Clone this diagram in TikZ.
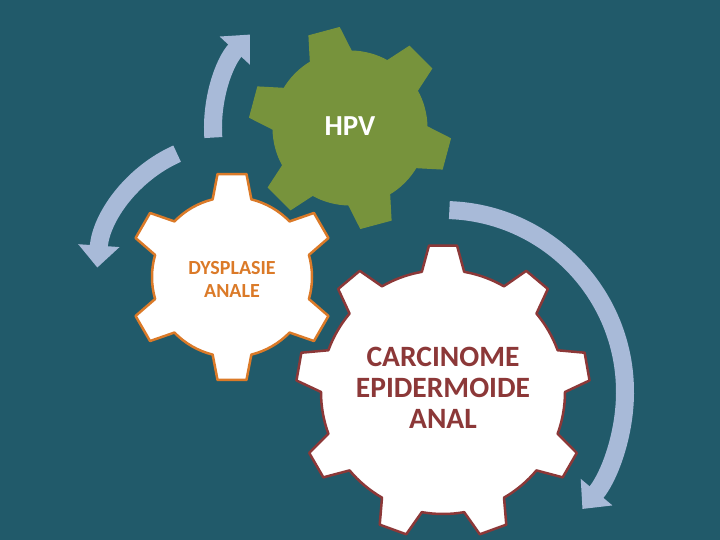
\documentclass[tikz,border=0pt]{standalone}
\usepackage{fontspec}
\setmainfont{Carlito}
\usetikzlibrary{arrows.meta,calc}
\definecolor{bg}{HTML}{215A6A}
\definecolor{gr}{HTML}{77933C}
\definecolor{orn}{HTML}{DB7A28}
\definecolor{rd}{HTML}{8C3838}
\definecolor{arr}{HTML}{A8BAD8}
\newcommand{\mygear}[8]{%
 \draw[#1] ({#4-#8}:#5) \foreach \i [evaluate=\i as \a using {#4+\i*360/#3}] in {0,...,\numexpr#3-1\relax} {
  -- ({\a-#8}:#5) -- ({\a-#7}:#6) -- ({\a+#7}:#6) -- ({\a+#8}:#5)
  arc[start angle={\a+#8}, end angle={\a+360/#3-#8}, radius=#5] } -- cycle;}
\tikzset{
 arrowarc/.style={draw=arr, line width=18pt, -{Triangle[width=40pt,length=22pt]}},
 lbl/.style={font=\bfseries, align=center}
}
\begin{document}
\begin{tikzpicture}[x=1pt,y=1pt]
\fill[bg] (0,0) rectangle (720,540);
\useasboundingbox (0,0) rectangle (720,540);
% arrows
\coordinate (a1) at ($(350,412)+(184:137)$);
\draw[arrowarc] (a1) arc[start angle=184, end angle=137, radius=137];
\coordinate (a2) at ($(232,263)+(114:135)$);
\draw[arrowarc] (a2) arc[start angle=114, end angle=176, radius=135];
\coordinate (a3) at ($(443,148)+(88:182)$);
\draw[arrowarc] (a3) arc[start angle=88, end angle=-40, radius=182];
% gears
\begin{scope}[shift={(350,412)}]
\mygear{fill=gr, draw=gr, line width=1pt}{0}{6}{105}{77}{101}{9}{16}
\end{scope}
\begin{scope}[shift={(232,263)}]
\mygear{fill=white, draw=orn, line width=2.5pt, line join=round}{0}{6}{90}{80}{104}{8}{14}
\end{scope}
\begin{scope}[shift={(443,148)}]
\mygear{fill=white, draw=rd, line width=2.5pt, line join=round}{0}{9}{90}{122}{147}{5.5}{10}
\end{scope}
\node[lbl, text=white, font=\bfseries\fontsize{29}{32}\selectfont] (hpv) at (350,414) {HPV};
\node[lbl, text=orn, font=\bfseries\fontsize{20}{23}\selectfont] (dys) at (232,261) {DYSPLASIE\\ANALE};
\node[lbl, text=rd, font=\bfseries\fontsize{29.5}{31}\selectfont] (car) at (443,152) {CARCINOME\\EPIDERMOIDE\\ANAL};
\end{tikzpicture}
\end{document}
